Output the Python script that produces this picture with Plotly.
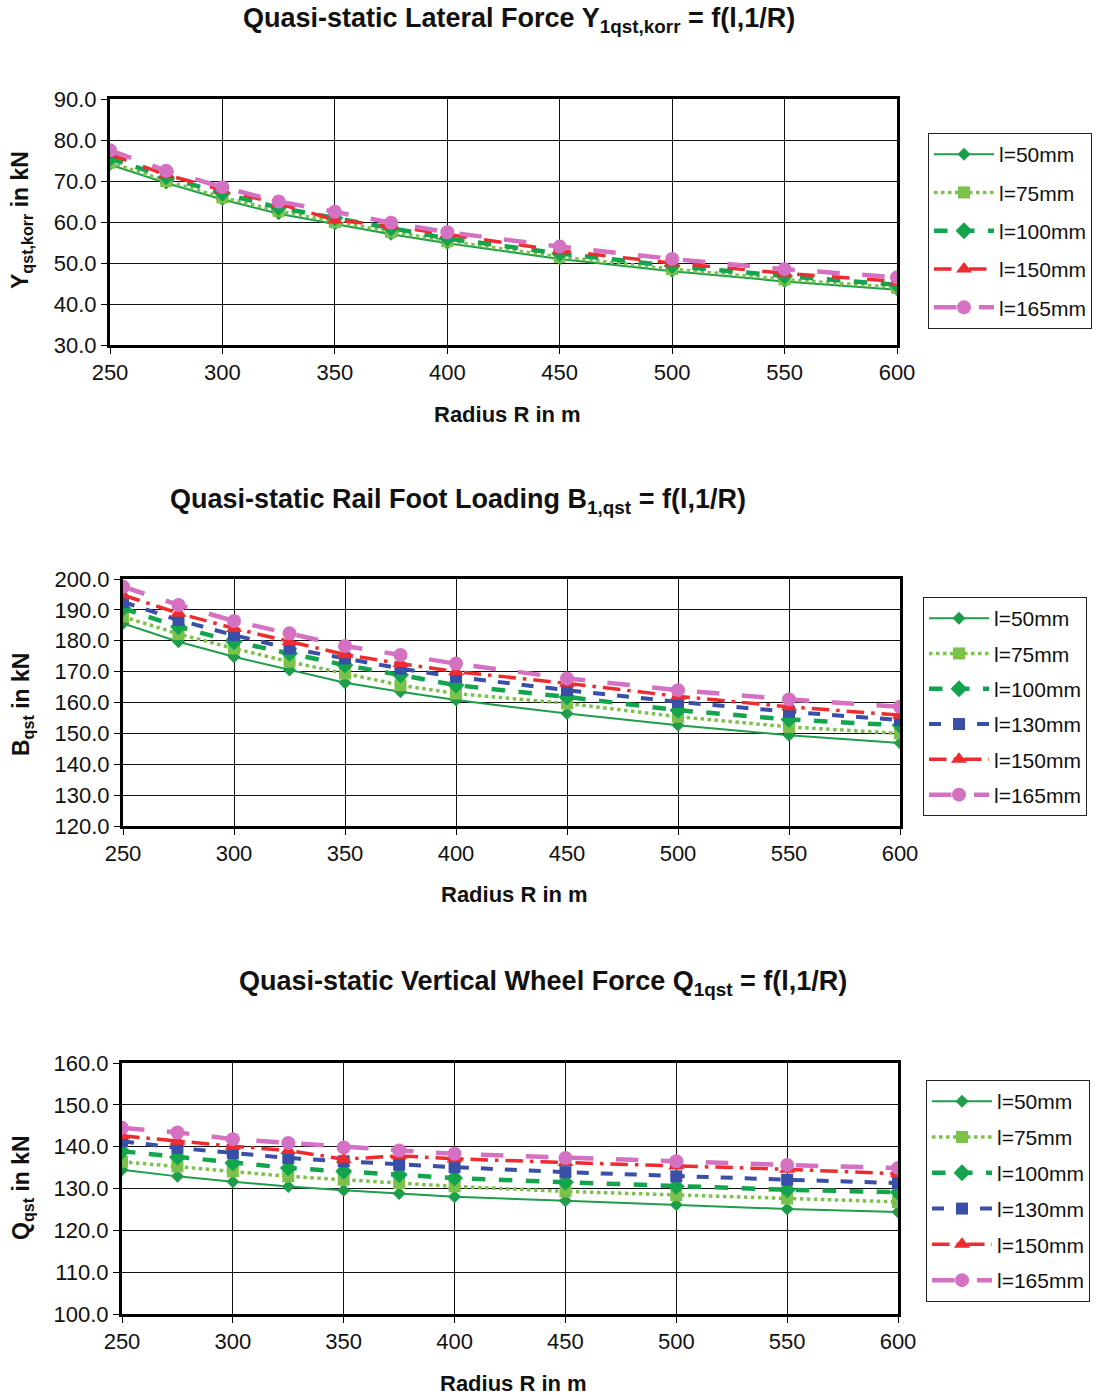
import plotly.graph_objects as go

# Curve radius R in m
radius = [250, 275, 300, 325, 350, 375, 400, 450, 500, 550, 600]

# Quasi-static lateral force Y_qst,korr in kN
y_labels = ["l=50mm", "l=75mm", "l=100mm", "l=150mm", "l=165mm"]
y_l50 = [74.0, 69.5, 65.5, 62.0, 59.5, 57.0, 54.8, 51.0, 48.0, 45.5, 43.5]
y_l75 = [74.5, 70.0, 66.0, 62.7, 60.0, 57.6, 55.3, 51.5, 48.5, 46.0, 44.0]
y_l100 = [75.5, 71.0, 67.0, 63.5, 61.0, 58.5, 56.0, 52.3, 49.3, 46.8, 44.7]
y_l150 = [76.5, 71.5, 67.8, 64.5, 60.5, 59.0, 57.0, 53.0, 50.0, 47.5, 45.5]
y_l165 = [77.5, 72.5, 68.5, 65.0, 62.5, 59.8, 57.5, 54.0, 51.0, 48.5, 46.5]

# Quasi-static rail foot loading B_qst in kN
b_labels = ["l=50mm", "l=75mm", "l=100mm", "l=130mm", "l=150mm", "l=165mm"]
b_l50 = [185.6, 179.7, 174.8, 170.5, 166.4, 163.5, 160.8, 156.4, 152.6, 149.4, 146.9]
b_l75 = [187.8, 182.2, 177.5, 173.2, 169.4, 165.6, 162.9, 159.7, 155.4, 152.1, 150.0]
b_l100 = [190.5, 184.5, 179.7, 175.9, 172.1, 168.9, 165.6, 161.8, 157.5, 154.5, 152.6]
b_l130 = [192.6, 186.7, 181.8, 177.5, 174.3, 171.0, 168.3, 164.0, 160.2, 157.0, 154.3]
b_l150 = [194.8, 188.9, 184.0, 179.7, 175.5, 172.6, 170.0, 166.2, 162.0, 158.6, 155.9]
b_l165 = [197.5, 191.6, 186.4, 182.4, 178.3, 175.4, 172.6, 167.8, 164.0, 161.0, 158.6]

# Quasi-static vertical wheel force Q_qst in kN
q_labels = ["l=50mm", "l=75mm", "l=100mm", "l=130mm", "l=150mm", "l=165mm"]
q_l50 = [134.5, 132.9, 131.6, 130.5, 129.6, 128.8, 128.0, 127.1, 126.1, 125.1, 124.4]
q_l75 = [136.4, 135.3, 134.1, 132.9, 132.1, 131.3, 130.5, 129.3, 128.4, 127.6, 126.8]
q_l100 = [138.9, 137.5, 136.1, 134.9, 134.1, 133.3, 132.5, 131.5, 130.5, 129.7, 129.1]
q_l130 = [141.3, 139.7, 138.5, 137.3, 136.5, 135.7, 135.1, 133.9, 132.9, 132.1, 131.3]
q_l150 = [142.6, 141.3, 140.1, 139.1, 137.0, 137.8, 137.1, 136.2, 135.4, 134.6, 133.5]
q_l165 = [144.5, 143.4, 141.8, 140.9, 139.8, 139.1, 138.3, 137.3, 136.5, 135.6, 134.9]

W, H = 1097, 1395
FONT = "Liberation Sans, Arial, sans-serif"

# line / marker style per gap width
STYLE = {
    "l=50mm": dict(color="#1e9e4a", dash="solid", width=2, symbol="diamond", size=10),
    "l=75mm": dict(color="#7cc24a", dash="dot", width=3.5, symbol="square", size=12),
    "l=100mm": dict(color="#12a54e", dash="dash", width=4.5, symbol="diamond", size=13),
    "l=130mm": dict(color="#3a4fa8", dash="dash", width=4, symbol="square", size=12),
    "l=150mm": dict(color="#ee2b2e", dash="longdash", width=3.5, symbol="triangle-up", size=14),
    "l=165mm": dict(color="#d471c2", dash="longdash", width=4.5, symbol="circle", size=14),
}


def px_x(p):
    return p / W


def px_y(p):
    return 1 - p / H


fig = go.Figure()

panels = [
    dict(ax="", labels=y_labels, data=[y_l50, y_l75, y_l100, y_l150, y_l165],
         box=(110, 897, 99, 345), yr=(30, 90), legend="legend", dash150="longdash",
         xtitle_y=414, xtitle_x=507, legpos=(928, 133), gap=8),
    dict(ax="2", labels=b_labels, data=[b_l50, b_l75, b_l100, b_l130, b_l150, b_l165],
         box=(123, 900, 579, 826), yr=(120, 200), legend="legend2", dash150="longdashdot",
         xtitle_y=895, xtitle_x=514, legpos=(923, 597), gap=5),
    dict(ax="3", labels=q_labels, data=[q_l50, q_l75, q_l100, q_l130, q_l150, q_l165],
         box=(122, 898, 1063, 1314), yr=(100, 160), legend="legend3", dash150="longdashdot",
         xtitle_y=1383, xtitle_x=513, legpos=(926, 1080), gap=5.5),
]

for p in panels:
    for name, vals in zip(p["labels"], p["data"]):
        s = STYLE[name]
        dash = p["dash150"] if name == "l=150mm" else s["dash"]
        fig.add_trace(go.Scatter(
            x=radius, y=vals, name=name, mode="lines+markers",
            xaxis="x" + p["ax"], yaxis="y" + p["ax"],
            legend=p["legend"], legendgroup=p["legend"] + name,
            line=dict(color=s["color"], dash=dash, width=s["width"]),
            marker=dict(symbol=s["symbol"], size=s["size"], color=s["color"]),
        ))

axis_common = dict(
    showgrid=True, gridcolor="#111111", gridwidth=1,
    showline=True, linecolor="#000000", linewidth=3, mirror=True,
    ticks="outside", ticklen=6, tickcolor="#000000",
    tickfont=dict(family=FONT, size=22, color="#111111"),
    zeroline=False, automargin=False,
)

layout_axes = {}
for p in panels:
    x0, x1, y0, y1 = p["box"]
    layout_axes["xaxis" + p["ax"]] = dict(
        axis_common, domain=[px_x(x0), px_x(x1)], range=[250, 600], dtick=50,
        anchor="y" + p["ax"],
    )
    layout_axes["yaxis" + p["ax"]] = dict(
        axis_common, domain=[px_y(y1), px_y(y0)], range=list(p["yr"]), dtick=10,
        tickformat=".1f", anchor="x" + p["ax"],
    )
    # x-axis title
    fig.add_annotation(
        text="<b>Radius R in m</b>", xref="paper", yref="paper",
        x=px_x(p["xtitle_x"]), y=px_y(p["xtitle_y"]),
        showarrow=False, xanchor="center", yanchor="middle",
        font=dict(family=FONT, size=22, color="#111111"),
    )

fig.update_layout(**layout_axes)

# y-axis titles (with subscripts)
ytitles = [
    ("<b>Y<sub>qst,korr</sub> in kN</b>", 220),
    ("<b>B<sub>qst</sub> in kN</b>", 705),
    ("<b>Q<sub>qst</sub> in kN</b>", 1188),
]
for text, yc in ytitles:
    fig.add_annotation(
        text=text, xref="paper", yref="paper", x=px_x(22), y=px_y(yc),
        showarrow=False, textangle=-90, xanchor="center", yanchor="middle",
        font=dict(family=FONT, size=23, color="#111111"),
    )

# panel titles
titles = [
    ("<b>Quasi-static Lateral Force Y<sub>1qst,korr</sub> = f(l,1/R)</b>", 519, 20),
    ("<b>Quasi-static Rail Foot Loading B<sub>1,qst</sub> = f(l,1/R)</b>", 458, 501),
    ("<b>Quasi-static Vertical Wheel Force Q<sub>1qst</sub> = f(l,1/R)</b>", 543, 983),
]
for text, xc, yc in titles:
    fig.add_annotation(
        text=text, xref="paper", yref="paper", x=px_x(xc), y=px_y(yc),
        showarrow=False, xanchor="center", yanchor="middle",
        font=dict(family=FONT, size=27, color="#111111"),
    )

legend_common = dict(
    bgcolor="white", bordercolor="#222222", borderwidth=1,
    font=dict(family=FONT, size=21, color="#111111"),
    xanchor="left", yanchor="top", itemwidth=60,
)
leg_layout = {}
for p in panels:
    lx, ly = p["legpos"]
    leg_layout[p["legend"]] = dict(legend_common, x=px_x(lx), y=px_y(ly),
                                   tracegroupgap=p["gap"])
fig.update_layout(**leg_layout)

fig.update_layout(
    width=W, height=H,
    margin=dict(l=0, r=0, t=0, b=0, autoexpand=False),
    paper_bgcolor="white", plot_bgcolor="white",
    showlegend=True,
    font=dict(family=FONT, color="#111111"),
)

fig.write_html("out.html")
